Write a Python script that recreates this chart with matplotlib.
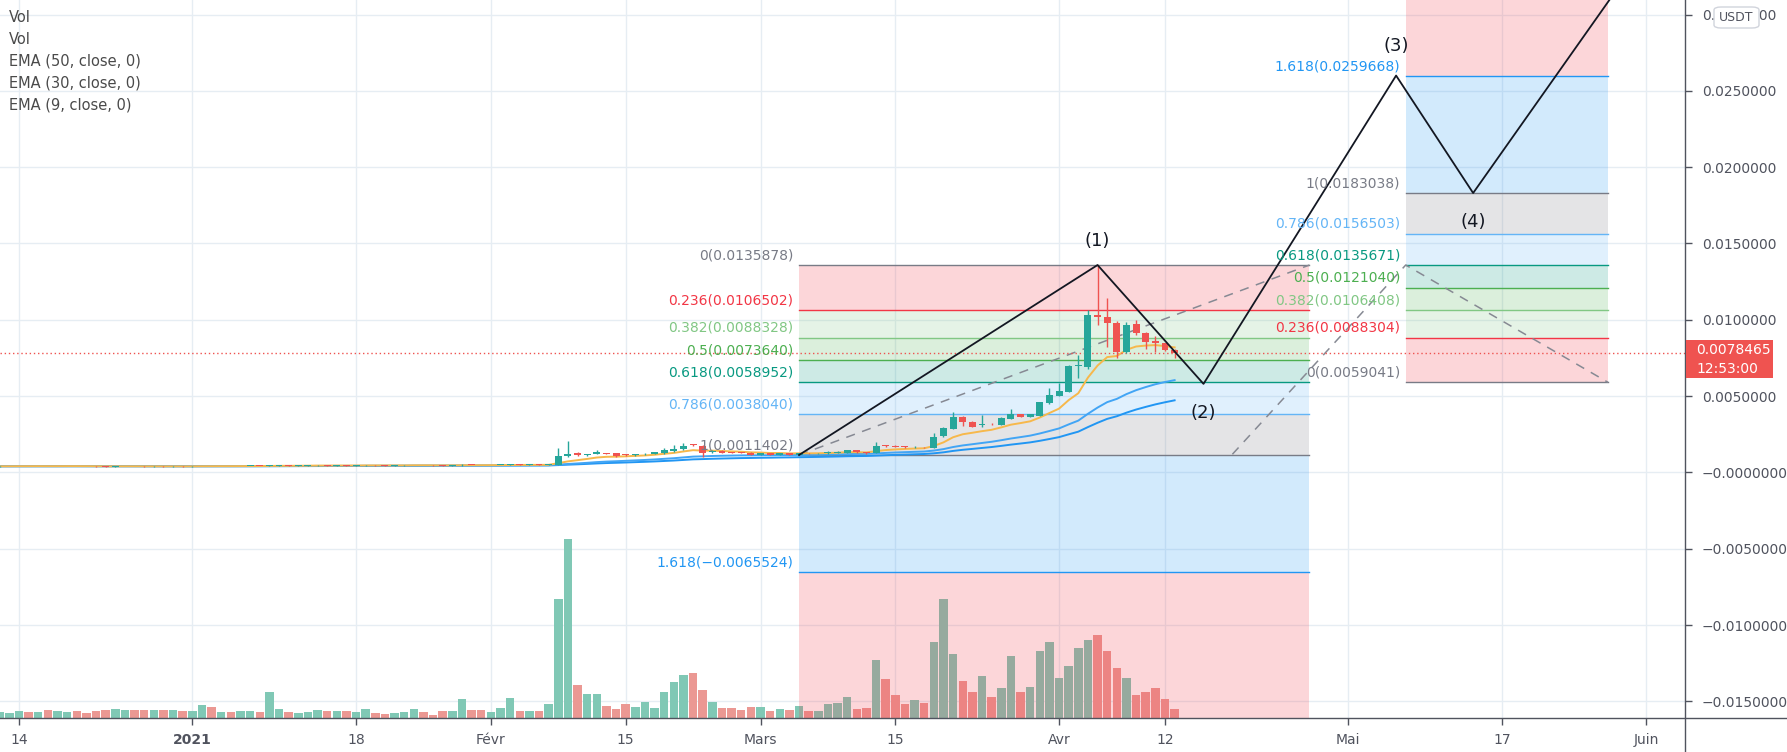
import numpy as np
import pandas as pd
import matplotlib
matplotlib.use('Agg')
import matplotlib.pyplot as plt
from matplotlib.patches import Rectangle, FancyBboxPatch
from matplotlib.ticker import FuncFormatter

# x axis is counted in days from this date
ORIGIN = pd.Timestamp('2020-12-14')


def day(s):
    return (pd.Timestamp(s) - ORIGIN).days


# Daily candles, 2020-12-12 .. 2021-04-13 (USDT)
candle_start = '2020-12-12'
opens = [
    .00039, .00040, .00041, .00042, .00041, .00042, .00040, .00041, .00042, .00041,
    .00040, .00039, .00038, .00040, .00041, .00040, .00039, .00040, .00039, .00040,
    .00039, .00040, .00043, .00041, .00042, .00041, .00042, .00043, .00042, .00045,
    .00046, .00044, .00045, .00046, .00047, .00045, .00046, .00045, .00046, .00048,
    .00046, .00045, .00046, .00047, .00049, .00047, .00046, .00045, .00046, .00050,
    .00048, .00047, .00048, .00049, .00052, .00050, .00051, .00049, .00050, .00105,
    .00129, .00112, .00121, .00122, .00127, .00115, .00112, .00119, .00121, .00125,
    .00138, .00151, .00182, .00175, .00132, .00142, .00132, .00130, .00130, .00116,
    .00125, .00116, .00127, .00116, .00126, .00125, .00125, .00128, .00129, .00147,
    .00132, .00129, .00176, .00175, .00168, .00165, .00167, .00162, .00238, .00286,
    .00365, .00332, .00310, .00320, .00313, .00352, .00381, .00365, .00372, .00453,
    .00503, .00529, .00697, .00692, .01031, .01016, .00977, .00791, .00970, .00911,
    .00861, .00846, .00802,
]
closes = [
    .00040, .00041, .00042, .00041, .00042, .00040, .00041, .00042, .00041, .00040,
    .00039, .00038, .00040, .00041, .00040, .00039, .00040, .00039, .00040, .00039,
    .00040, .00043, .00041, .00042, .00041, .00042, .00043, .00042, .00045, .00046,
    .00044, .00045, .00046, .00047, .00045, .00046, .00045, .00046, .00048, .00046,
    .00045, .00046, .00047, .00049, .00047, .00046, .00045, .00046, .00050, .00048,
    .00047, .00048, .00049, .00052, .00050, .00051, .00049, .00052, .00105, .00118,
    .00112, .00121, .00134, .00121, .00107, .00114, .00121, .00122, .00134, .00147,
    .00151, .00175, .00180, .00130, .00142, .00130, .00128, .00128, .00114, .00125,
    .00116, .00125, .00116, .00127, .00125, .00126, .00136, .00136, .00147, .00132,
    .00125, .00173, .00174, .00168, .00166, .00167, .00165, .00234, .00291, .00365,
    .00328, .00299, .00312, .00315, .00359, .00383, .00365, .00381, .00459, .00507,
    .00533, .00697, .00699, .01031, .01016, .00977, .00791, .00966, .00911, .00856,
    .00846, .00802, .0078465,
]
highs = [
    .00041, .00042, .00043, .00043, .00043, .00043, .00042, .00043, .00043, .00042,
    .00041, .00040, .00041, .00042, .00042, .00041, .00041, .00041, .00041, .00041,
    .00041, .00045, .00044, .00043, .00043, .00043, .00044, .00044, .00048, .00047,
    .00047, .00046, .00047, .00048, .00048, .00047, .00047, .00047, .00049, .00049,
    .00047, .00047, .00048, .00050, .00050, .00048, .00047, .00047, .00052, .00051,
    .00049, .00049, .00050, .00054, .00053, .00052, .00052, .00053, .00158, .00206,
    .00132, .00123, .00147, .00126, .00129, .00118, .00123, .00124, .00136, .00160,
    .00182, .00190, .00188, .00178, .00145, .00144, .00134, .00132, .00132, .00127,
    .00127, .00127, .00129, .00129, .00130, .00129, .00138, .00138, .00150, .00149,
    .00134, .00197, .00180, .00177, .00170, .00170, .00169, .00256, .00300, .00396,
    .00370, .00335, .00376, .00325, .00365, .00417, .00385, .00385, .00462, .00551,
    .00584, .00706, .00769, .01064, .0135878, .01141, .00990, .00985, .00998, .00920,
    .00894, .00850, .00810,
]
lows = [
    .00038, .00039, .00040, .00040, .00040, .00039, .00039, .00040, .00040, .00039,
    .00038, .00037, .00037, .00039, .00039, .00038, .00038, .00038, .00038, .00038,
    .00038, .00039, .00040, .00040, .00040, .00040, .00041, .00041, .00041, .00044,
    .00043, .00043, .00044, .00045, .00044, .00044, .00044, .00044, .00045, .00045,
    .00044, .00044, .00045, .00046, .00046, .00045, .00044, .00044, .00045, .00047,
    .00046, .00046, .00047, .00048, .00049, .00049, .00048, .00048, .00048, .00100,
    .00108, .00110, .00119, .00118, .00103, .00110, .00110, .00117, .00119, .00123,
    .00136, .00149, .00170, .00100, .00130, .00128, .00126, .00126, .00112, .00114,
    .00114, .00114, .00114, .00114, .00120, .00121, .00123, .00126, .00127, .00130,
    .00122, .00127, .00166, .00165, .00163, .00163, .00163, .00160, .00234, .00282,
    .00306, .00295, .00297, .00310, .00310, .00348, .00360, .00360, .00370, .00450,
    .00500, .00525, .00620, .00680, .00966, .00824, .00747, .00780, .00900, .00808,
    .00791, .00795, .00747,
]
volumes = [
    6.3, 5.3, 7.3, 6.3, 6.3, 8.3, 7.3, 6.3, 7.3, 5.3,
    7.3, 8.3, 9.3, 8.3, 8.3, 8.3, 8.3, 8.3, 8.3, 7.3,
    7.3, 13.3, 11.3, 6.3, 6.3, 7.3, 7.3, 6.3, 26.3, 9.3,
    6.3, 5.3, 6.3, 8.3, 7.3, 7.3, 7.3, 6.3, 9.3, 5.3,
    4.3, 5.3, 6.3, 9.3, 6.3, 3.3, 7.0, 7.0, 19.0, 7.7,
    7.7, 6.0, 10.0, 20.0, 7.5, 7.5, 7.0, 14.0, 118.7, 178.7,
    33.0, 24.0, 24.0, 11.7, 8.7, 13.7, 10.7, 15.7, 9.7, 25.7,
    35.7, 42.7, 44.7, 27.7, 15.7, 9.7, 9.7, 7.7, 10.7, 10.7,
    6.7, 8.7, 7.7, 11.7, 6.7, 6.7, 14.0, 15.0, 21.0, 9.0,
    10.0, 58.0, 39.0, 23.0, 14.0, 18.0, 15.0, 76.0, 119.0, 64.0,
    37.0, 26.0, 42.0, 21.0, 30.0, 62.0, 26.0, 31.0, 67.0, 76.0,
    40.0, 52.0, 70.0, 78.0, 83.0, 67.0, 50.0, 40.0, 23.0, 26.0,
    30.0, 19.0, 9.0,
]
last_price = 0.0078465
last_time = '12:53:00'

# Fib tools: ratio labels and level prices
fib1_span = ('2021-03-05', '2021-04-27')
fib1_ratios = ['0', '0.236', '0.382', '0.5', '0.618', '0.786', '1', '1.618', '2.618']
fib1_prices = [0.0135878, 0.0106502, 0.0088328, 0.0073640, 0.0058952, 0.0038040,
               0.0011402, -0.0065524, -0.0189991]
fib1_trend = (['2021-03-05', '2021-04-27'], [0.0011402, 0.0135878])

fib2_span = ('2021-05-07', '2021-05-28')
fib2_ratios = ['0', '0.236', '0.382', '0.5', '0.618', '0.786', '1', '1.618', '2.618']
fib2_prices = [0.0059041, 0.0088304, 0.0106408, 0.0121040, 0.0135671, 0.0156503,
               0.0183038, 0.0259668, 0.0383662]
fib2_trend = (['2021-04-19', '2021-05-07', '2021-05-28'], [0.0011881, 0.0135878, 0.0059041])

fib_colors = ['#787b86', '#f23645', '#81c784', '#4caf50', '#089981', '#64b5f6',
              '#787b86', '#2196f3', '#f23645']

# Elliott wave count
wave_dates = ['2021-03-05', '2021-04-05', '2021-04-16', '2021-05-06', '2021-05-14', '2021-05-31']
wave_prices = [0.0011402, 0.0135878, 0.0058000, 0.0260000, 0.0183038, 0.0335000]
wave_labels = ['(1)', '(2)', '(3)', '(4)']
wave_label_prices = [0.01516, 0.00389, 0.02793, 0.01642]

tick_dates = ['2020-12-14', '2021-01-01', '2021-01-18', '2021-02-01', '2021-02-15', '2021-03-01',
              '2021-03-15', '2021-04-01', '2021-04-12', '2021-05-01', '2021-05-17', '2021-06-01']
tick_labels = ['14', '2021', '18', 'Févr', '15', 'Mars', '15', 'Avr', '12', 'Mai', '17', 'Juin']
price_ticks = [-0.015, -0.010, -0.005, 0.0, 0.005, 0.010, 0.015, 0.020, 0.025, 0.030]

legend_lines = ['Vol', 'Vol', 'EMA (50, close, 0)', 'EMA (30, close, 0)', 'EMA (9, close, 0)']

UP, DOWN = '#26a69a', '#ef5350'
UP_VOL, DOWN_VOL = '#80c8b5', '#eb9893'
GRID = '#e6edf3'
TEXT = '#50535e'

# ---------------------------------------------------------------------------
W, H = 1787, 752
fig = plt.figure(figsize=(W / 100, H / 100), dpi=100)
rect = [0, 34 / H, 1685 / W, 718 / H]
axv = fig.add_axes(rect)
ax = fig.add_axes(rect, sharex=axv)
ax.patch.set_alpha(0)
axv.set_zorder(0)
ax.set_zorder(1)

xs = np.array([day(d) for d in pd.date_range(candle_start, periods=len(closes))])
o, c, h, l = map(np.array, (opens, closes, highs, lows))
up = c >= o

ax.set_xlim(-1.973, 173.0)
ax.set_ylim(-0.01609, 0.03095)

# grid (kept on the back axes so it sits under the volume)
for d in tick_dates:
    axv.axvline(day(d), color=GRID, lw=1, zorder=0)
for p in price_ticks:
    axv.plot([0, 1], [p, p], color=GRID, lw=1, zorder=0, transform=ax.get_yaxis_transform())

# volume
axv.bar(xs, volumes, width=0.88, color=np.where(up, UP_VOL, DOWN_VOL), zorder=1)
axv.set_ylim(0, 718)
axv.axis('off')


def draw_fib(span, ratios, prices, trend):
    x0, x1 = day(span[0]), day(span[1])
    for i in range(len(prices) - 1):
        ax.fill_between([x0, x1], prices[i], prices[i + 1], color=fib_colors[i + 1],
                        alpha=0.2, lw=0, zorder=1)
    for r, p, col in zip(ratios[:-1], prices[:-1], fib_colors[:-1]):
        ax.plot([x0, x1], [p, p], color=col, lw=1, zorder=2)
        txt = f"{r}({p:.7f})".replace('-', '\u2212')
        ax.annotate(txt, (x0, p), xytext=(-4, 2), textcoords='offset points',
                    ha='right', va='bottom', color=col, fontsize=10, zorder=6)
    ax.plot([day(d) for d in trend[0]], trend[1], color='#868993', lw=1.1,
            ls=(0, (6, 5)), zorder=2)


draw_fib(fib1_span, fib1_ratios, fib1_prices, fib1_trend)
draw_fib(fib2_span, fib2_ratios, fib2_prices, fib2_trend)

# EMAs of the close
cs = pd.Series(closes)
ax.plot(xs, cs.ewm(span=50, adjust=False).mean(), color='#2196f3', lw=1.4, zorder=3)
ax.plot(xs, cs.ewm(span=30, adjust=False).mean(), color='#42a5f5', lw=1.4, zorder=3)
ax.plot(xs, cs.ewm(span=9, adjust=False).mean(), color='#f7b84b', lw=1.4, zorder=3)

# candles
cols = np.where(up, UP, DOWN)
ax.vlines(xs, l, h, colors=cols, lw=1, zorder=4)
body = np.maximum(np.abs(c - o), 0.00004)
ax.bar(xs, body, bottom=np.minimum(o, c), width=0.72, color=cols, zorder=4)

# current price line
ax.axhline(last_price, color=DOWN, lw=1, ls=(0, (1, 2)), zorder=3)

# wave count
wx = [day(d) for d in wave_dates]
ax.plot(wx, wave_prices, color='#131722', lw=1.3, zorder=5)
for lab, d, p in zip(wave_labels, wave_dates[1:5], wave_label_prices):
    ax.text(day(d), p, lab, ha='center', va='center', fontsize=13, color='#131722', zorder=6)

# axes
ax.set_xticks([day(d) for d in tick_dates])
ax.set_xticklabels(tick_labels)
for t in ax.get_xticklabels():
    if t.get_text() == '2021':
        t.set_fontweight('bold')
ax.set_yticks(price_ticks)
ax.yaxis.tick_right()


def fmt(v, _):
    s = f"{abs(v):.7f}"
    return ('\u2212' + s) if v <= 0 else s


ax.yaxis.set_major_formatter(FuncFormatter(fmt))
ax.tick_params(axis='y', length=5, width=1, color=TEXT, pad=7, labelsize=10, labelcolor=TEXT)
ax.tick_params(axis='x', length=5, width=1, color=TEXT, pad=6, labelsize=10, labelcolor=TEXT)
for s in ax.spines.values():
    s.set_visible(False)

# axis frame lines across the whole canvas
fig.add_artist(plt.Line2D([1685 / W, 1685 / W], [0, 1], color=TEXT, lw=1, zorder=5))
fig.add_artist(plt.Line2D([0, 1], [34 / H, 34 / H], color=TEXT, lw=1, zorder=5))

# price tag on the scale
fig.add_artist(Rectangle((1686 / W, (H - 378) / H), 87 / W, 38 / H, facecolor=DOWN,
                         edgecolor='none', zorder=10))
fig.text(1696 / W, (H - 350) / H, f"{last_price:.7f}", color='white', fontsize=10,
         ha='left', va='center', zorder=11)
fig.text(1696 / W, (H - 369) / H, last_time, color='white', fontsize=10,
         ha='left', va='center', zorder=11)

# currency badge, covering the top scale label like the original
fig.add_artist(FancyBboxPatch((1714 / W, (H - 28) / H), 45 / W, 21 / H,
                              boxstyle='round,pad=0,rounding_size=0.004',
                              facecolor='white', edgecolor='#d1d4dc', lw=1, zorder=10))
fig.text(1736.5 / W, (H - 17.5) / H, 'USDT', color=TEXT, fontsize=9, ha='center',
         va='center', zorder=11)

# study legend
for i, s in enumerate(legend_lines):
    fig.text(9 / W, (H - 17 - 22 * i) / H, s, color='#4a4a4a', fontsize=10.5,
             ha='left', va='center')

fig.savefig('out.png', dpi=100)
